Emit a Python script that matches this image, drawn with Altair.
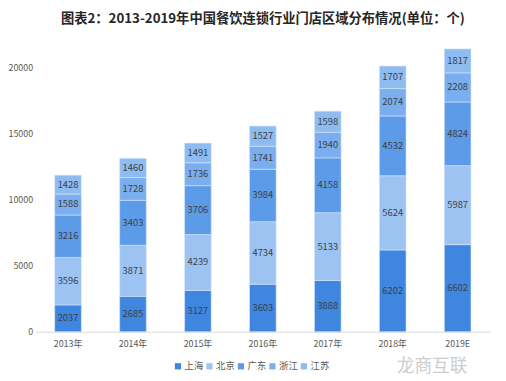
import altair as alt
import pandas as pd

years = ["2013年", "2014年", "2015年", "2016年", "2017年", "2018年", "2019E"]
regions = ["上海", "北京", "广东", "浙江", "江苏"]
shanghai = [2037, 2685, 3127, 3603, 3888, 6202, 6602]
beijing = [3596, 3871, 4239, 4734, 5133, 5624, 5987]
guangdong = [3216, 3403, 3706, 3984, 4158, 4532, 4824]
zhejiang = [1588, 1728, 1736, 1741, 1940, 2074, 2208]
jiangsu = [1428, 1460, 1491, 1527, 1598, 1707, 1817]
colors = ["#3F86E0", "#9DC3F3", "#5C9BE8", "#7AAEEE", "#8EBBF0"]

series = [shanghai, beijing, guangdong, zhejiang, jiangsu]
rows = []
for ri, (r, vals) in enumerate(zip(regions, series)):
    for y, v in zip(years, vals):
        rows.append({"year": y, "region": r, "value": v, "order": ri})
df = pd.DataFrame(rows)

base = alt.Chart(df).encode(
    x=alt.X("year:N", sort=years, scale=alt.Scale(paddingInner=0.59, paddingOuter=0.295),
            axis=alt.Axis(title=None, labelAngle=0, labelFont="Noto Sans CJK SC",
                          labelFontSize=9, labelColor="#595959", ticks=False,
                          domainColor="#d9d9d9", domainWidth=1, labelPadding=8)),
    y=alt.Y("value:Q", stack="zero",
            scale=alt.Scale(domain=[0, 22000], nice=False),
            axis=alt.Axis(title=None, values=[0, 5000, 10000, 15000, 20000], grid=False,
                          format="d",
                          domain=False, ticks=False, labelFont="Noto Sans CJK SC",
                          labelFontSize=9, labelColor="#595959", labelPadding=3)),
    order=alt.Order("order:Q"),
)

bars = base.mark_bar(stroke="#d6e6fb", strokeWidth=0.6).encode(
    color=alt.Color("region:N", sort=regions,
                    scale=alt.Scale(domain=regions, range=colors),
                    legend=alt.Legend(title=None, orient="none", direction="horizontal",
                                      legendX=140, legendY=325, symbolType="square",
                                      symbolSize=40, symbolStrokeWidth=0,
                                      labelFont="Noto Sans CJK SC", labelFontSize=9.5,
                                      labelColor="#595959", columnPadding=1,
                                      symbolOffset=0, labelOffset=2)),
)

labels = alt.Chart(df).mark_text(font="Noto Sans CJK SC", fontSize=9.5, color="#404040").encode(
    x=alt.X("year:N", sort=years),
    y=alt.Y("mid:Q"),
    text=alt.Text("value:Q", format="d"),
).transform_window(
    cum="sum(value)", groupby=["year"], sort=[alt.SortField("order")],
    frame=[None, 0]
).transform_calculate(mid="datum.cum - datum.value / 2")

wm = alt.Chart(pd.DataFrame({"t": ["龙商互联"]})).mark_text(
    font="Noto Sans CJK SC", fontSize=18, color="#cdcdcd", align="right", baseline="middle"
).encode(text="t:N", x=alt.value(439), y=alt.value(331))

chart = alt.layer(bars, labels, wm).properties(
    width=462, height=295,
    autosize=alt.AutoSizeParams(type="none"),
    padding={"left": 28, "top": 31, "right": 8, "bottom": 46},
    title=alt.Title("图表2：2013-2019年中国餐饮连锁行业门店区域分布情况(单位：个)",
                    font="Noto Sans CJK SC", fontSize=13.5, fontWeight="bold",
                    color="#262626", anchor="middle", offset=0, dy=-16),
).configure_view(stroke=None)

chart.save("out.html", embed_options={"renderer": "svg", "actions": False})
